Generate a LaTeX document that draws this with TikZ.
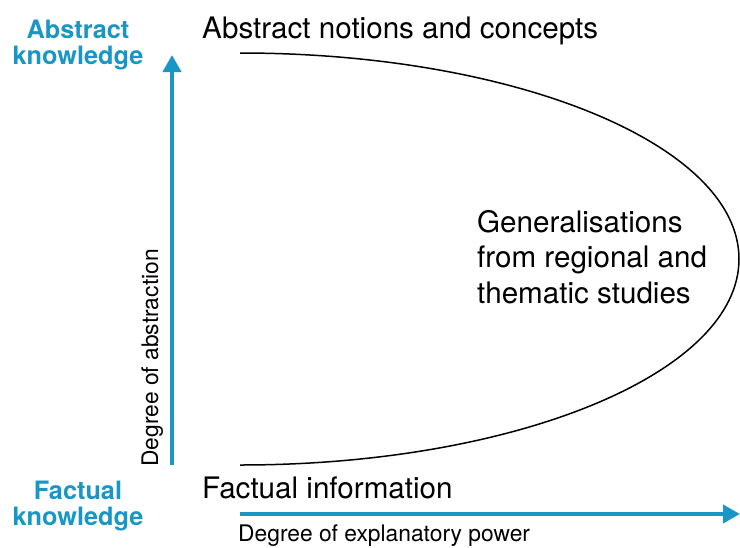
\documentclass[tikz,border=0pt]{standalone}
\usepackage{fontspec}
\setmainfont{TeX Gyre Heros}
\usetikzlibrary{arrows.meta}
\definecolor{axisblue}{RGB}{26,150,196}
\begin{document}
\begin{tikzpicture}[x=1pt,y=-1pt,
  axis/.style={draw=axisblue,line width=4pt,-{Triangle[length=17pt,width=18pt]}},
  pole/.style={text=axisblue,font=\fontsize{25.3}{25.5}\selectfont\bfseries,align=center},
  big/.style={font=\fontsize{29.6}{35.5}\selectfont,inner sep=0pt},
  small/.style={font=\fontsize{22.8}{27}\selectfont,inner sep=0pt}]
\useasboundingbox (0,0) rectangle (740,547);
\coordinate (top) at (240,53);
\coordinate (bottom) at (240,465);
\coordinate (right) at (739,259);
\coordinate (vstart) at (172,465);
\coordinate (vend) at (172,55);
\coordinate (hstart) at (240,514);
\coordinate (hend) at (740,514);
% the half ellipse
\draw[line width=1.5pt] (top) .. controls (516,53) and (739,145) .. (right)
  .. controls (739,373) and (516,465) .. (bottom);
\draw[axis] (vstart) -- (vend);
\draw[axis] (hstart) -- (hend);
\node[pole] (abstract) at (78,45) {Abstract\\knowledge};
\node[pole] (factual) at (78,506) {Factual\\knowledge};
\node[big,anchor=base west] (notions) at (202,38) {Abstract notions and concepts};
\node[big,anchor=base west] (information) at (202,498) {Factual information};
\node[big,anchor=base west,align=left] (general) at (477,303)
  {Generalisations\\from regional and\\thematic studies};
\node[small,rotate=90,anchor=base] (abstraction) at (158,358) {Degree of abstraction};
\node[small,anchor=base west] (power) at (238,541) {Degree of explanatory power};
\end{tikzpicture}
\end{document}
